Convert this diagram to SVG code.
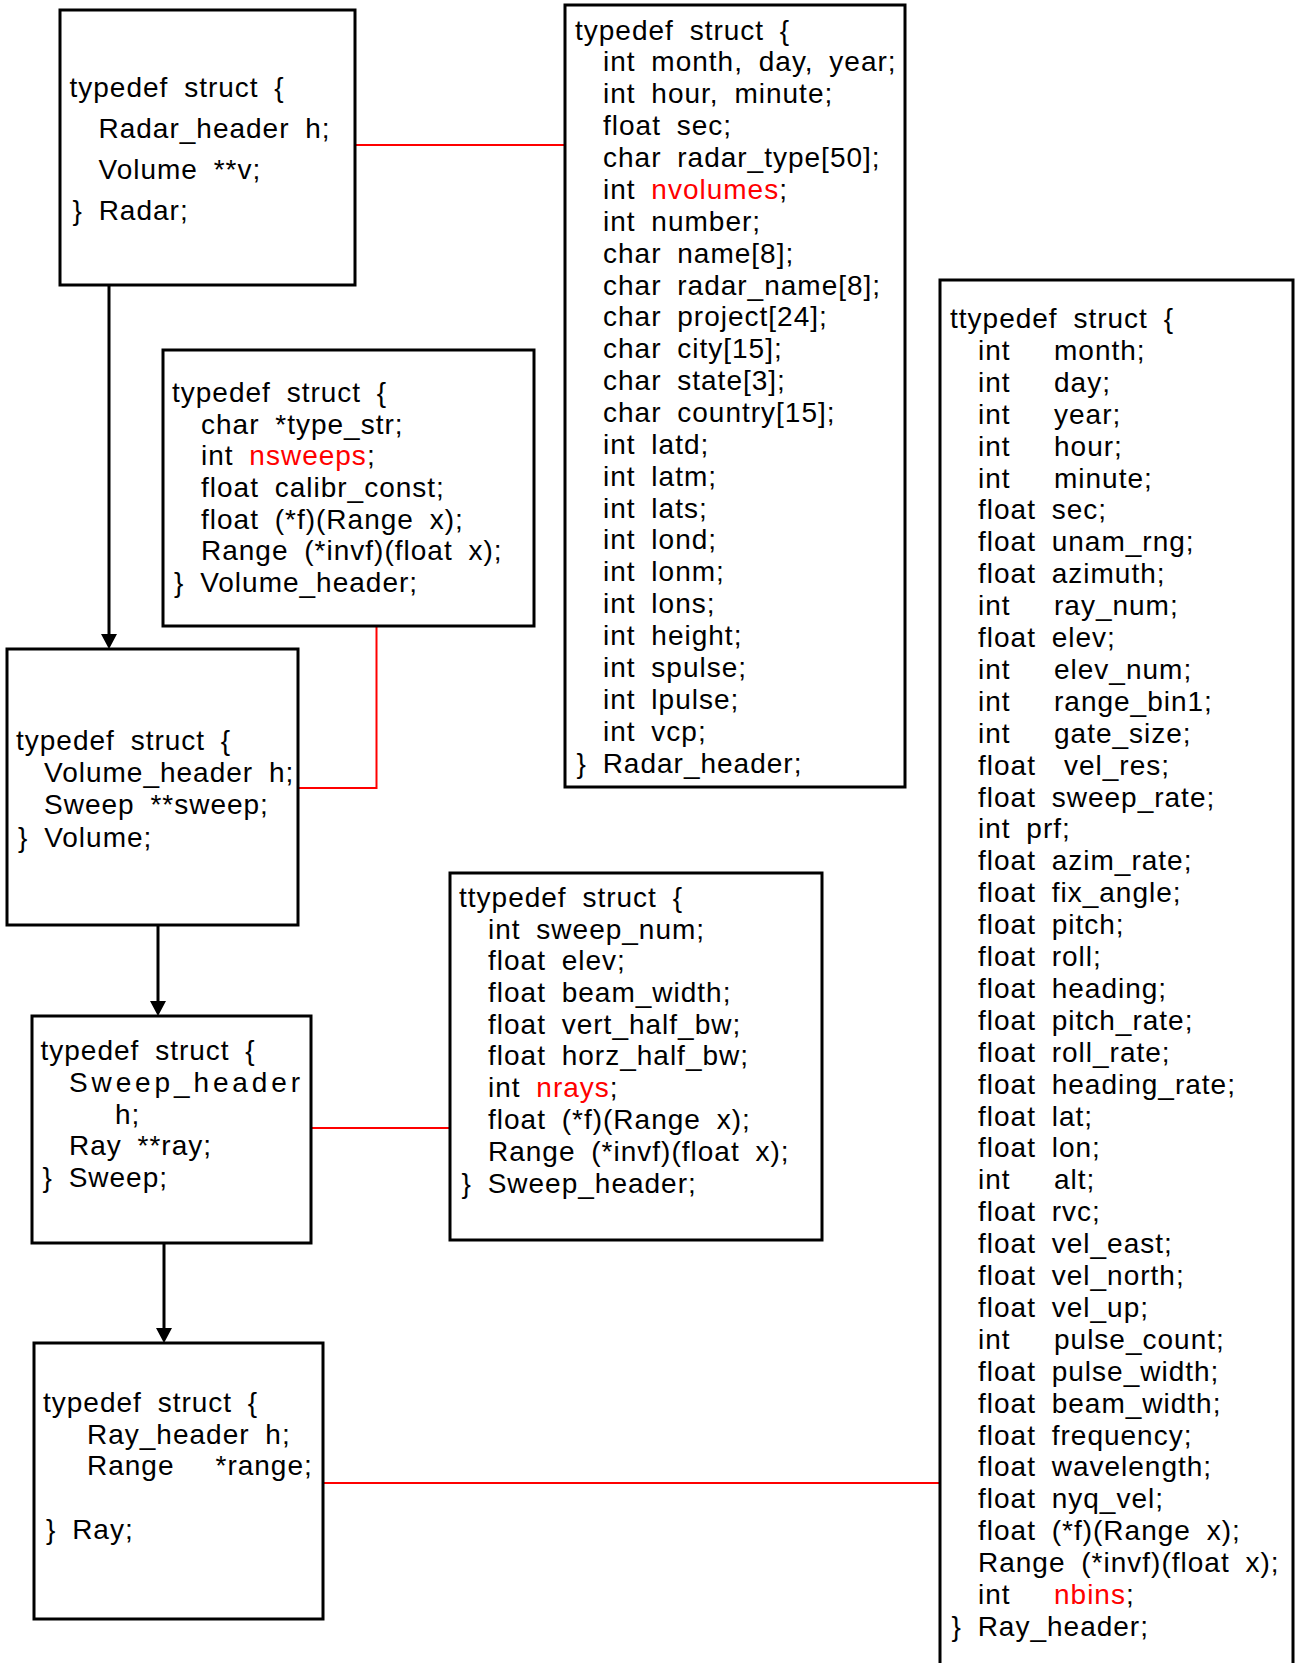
<svg xmlns="http://www.w3.org/2000/svg" width="1296" height="1663" viewBox="0 0 1296 1663">
<style>
.box{fill:#fff;stroke:#000;stroke-width:3}
.t{font-family:"Liberation Sans",Arial,sans-serif;font-size:28px;letter-spacing:1px;word-spacing:7px;fill:#000}
.r{fill:#ff0000}
.red{stroke:#ff0000;stroke-width:2;fill:none}
.arr{stroke:#000;stroke-width:3;fill:none;marker-end:url(#ah)}
</style>
<defs>
<marker id="ah" markerUnits="userSpaceOnUse" markerWidth="16" markerHeight="16" refX="0" refY="8" orient="auto" viewBox="0 0 16 16">
<path d="M0,0 L15,8 L0,16 z" fill="#000"/>
</marker>
</defs>
<rect width="1296" height="1663" fill="#fff"/>

<g id="connectors">
<path class="red" d="M355,145 H565"/>
<path class="red" d="M376.5,626 V788 H298"/>
<path class="red" d="M311,1128 H450"/>
<path class="red" d="M323,1483 H940"/>
<path class="arr" d="M109,286 V634"/>
<path class="arr" d="M158,925 V1001"/>
<path class="arr" d="M164,1243 V1328"/>
</g>

<g id="radar">
<rect class="box" x="60" y="10" width="295" height="275"/>
<text class="t" x="69.5" y="97">typedef struct {</text>
<text class="t" x="98.5" y="138">Radar_header h;</text>
<text class="t" x="98.5" y="179">Volume **v;</text>
<text class="t" x="72.5" y="220">} Radar;</text>
</g>

<g id="radar_header">
<rect class="box" x="565" y="5" width="340" height="782"/>
<text class="t" x="575" y="39.5">typedef struct {</text>
<text class="t" x="603" y="71.4">int month, day, year;</text>
<text class="t" x="603" y="103.2">int hour, minute;</text>
<text class="t" x="603" y="135.1">float sec;</text>
<text class="t" x="603" y="167">char radar_type[50];</text>
<text class="t" x="603" y="198.9">int <tspan class="r">nvolumes</tspan>;</text>
<text class="t" x="603" y="230.7">int number;</text>
<text class="t" x="603" y="262.6">char name[8];</text>
<text class="t" x="603" y="294.5">char radar_name[8];</text>
<text class="t" x="603" y="326.3">char project[24];</text>
<text class="t" x="603" y="358.2">char city[15];</text>
<text class="t" x="603" y="390.1">char state[3];</text>
<text class="t" x="603" y="421.9">char country[15];</text>
<text class="t" x="603" y="453.8">int latd;</text>
<text class="t" x="603" y="485.7">int latm;</text>
<text class="t" x="603" y="517.6">int lats;</text>
<text class="t" x="603" y="549.4">int lond;</text>
<text class="t" x="603" y="581.3">int lonm;</text>
<text class="t" x="603" y="613.2">int lons;</text>
<text class="t" x="603" y="645">int height;</text>
<text class="t" x="603" y="676.9">int spulse;</text>
<text class="t" x="603" y="708.8">int lpulse;</text>
<text class="t" x="603" y="740.6">int vcp;</text>
<text class="t" x="576.5" y="772.5">} Radar_header;</text>
</g>

<g id="volume_header">
<rect class="box" x="163" y="350" width="371" height="276"/>
<text class="t" x="172" y="402">typedef struct {</text>
<text class="t" x="201" y="433.5">char *type_str;</text>
<text class="t" x="201" y="465">int <tspan class="r">nsweeps</tspan>;</text>
<text class="t" x="201" y="497">float calibr_const;</text>
<text class="t" x="201" y="528.5">float (*f)(Range x);</text>
<text class="t" x="201" y="560">Range (*invf)(float x);</text>
<text class="t" x="174" y="592">} Volume_header;</text>
</g>

<g id="volume">
<rect class="box" x="7" y="649" width="291" height="276"/>
<text class="t" x="16" y="750">typedef struct {</text>
<text class="t" x="44" y="782">Volume_header h;</text>
<text class="t" x="44" y="814">Sweep **sweep;</text>
<text class="t" x="18" y="846.5">} Volume;</text>
</g>

<g id="sweep">
<rect class="box" x="32" y="1016" width="279" height="227"/>
<text class="t" x="40.5" y="1060">typedef struct {</text>
<text class="t" x="69" y="1092" textLength="232" lengthAdjust="spacing">Sweep_header</text>
<text class="t" x="115" y="1123.5">h;</text>
<text class="t" x="69" y="1155">Ray **ray;</text>
<text class="t" x="42.5" y="1187">} Sweep;</text>
</g>

<g id="sweep_header">
<rect class="box" x="450" y="873" width="372" height="367"/>
<text class="t" x="459" y="907">ttypedef struct {</text>
<text class="t" x="488" y="938.5">int sweep_num;</text>
<text class="t" x="488" y="970">float elev;</text>
<text class="t" x="488" y="1002">float beam_width;</text>
<text class="t" x="488" y="1033.5">float vert_half_bw;</text>
<text class="t" x="488" y="1065">float horz_half_bw;</text>
<text class="t" x="488" y="1097">int <tspan class="r">nrays</tspan>;</text>
<text class="t" x="488" y="1129">float (*f)(Range x);</text>
<text class="t" x="488" y="1161">Range (*invf)(float x);</text>
<text class="t" x="461.5" y="1193">} Sweep_header;</text>
</g>

<g id="ray">
<rect class="box" x="34" y="1343" width="289" height="276"/>
<text class="t" x="43" y="1411.5">typedef struct {</text>
<text class="t" x="87" y="1443.5">Ray_header h;</text>
<text class="t" y="1475"><tspan x="87">Range</tspan><tspan x="215.5">*range;</tspan></text>
<text class="t" x="46" y="1538.5">} Ray;</text>
</g>

<g id="ray_header">
<rect class="box" x="940" y="280" width="353" height="1400"/>
<text class="t" x="950" y="328">ttypedef struct {</text>
<text class="t" y="359.9"><tspan x="978">int</tspan><tspan x="1054">month;</tspan></text>
<text class="t" y="391.8"><tspan x="978">int</tspan><tspan x="1054">day;</tspan></text>
<text class="t" y="423.7"><tspan x="978">int</tspan><tspan x="1054">year;</tspan></text>
<text class="t" y="455.6"><tspan x="978">int</tspan><tspan x="1054">hour;</tspan></text>
<text class="t" y="487.5"><tspan x="978">int</tspan><tspan x="1054">minute;</tspan></text>
<text class="t" x="978" y="519.4">float sec;</text>
<text class="t" x="978" y="551.3">float unam_rng;</text>
<text class="t" x="978" y="583.2">float azimuth;</text>
<text class="t" y="615.1"><tspan x="978">int</tspan><tspan x="1054">ray_num;</tspan></text>
<text class="t" x="978" y="647">float elev;</text>
<text class="t" y="678.9"><tspan x="978">int</tspan><tspan x="1054">elev_num;</tspan></text>
<text class="t" y="710.8"><tspan x="978">int</tspan><tspan x="1054">range_bin1;</tspan></text>
<text class="t" y="742.7"><tspan x="978">int</tspan><tspan x="1054">gate_size;</tspan></text>
<text class="t" y="774.6"><tspan x="978">float</tspan><tspan x="1064">vel_res;</tspan></text>
<text class="t" x="978" y="806.5">float sweep_rate;</text>
<text class="t" x="978" y="838.4">int prf;</text>
<text class="t" x="978" y="870.3">float azim_rate;</text>
<text class="t" x="978" y="902.2">float fix_angle;</text>
<text class="t" x="978" y="934.1">float pitch;</text>
<text class="t" x="978" y="966">float roll;</text>
<text class="t" x="978" y="997.9">float heading;</text>
<text class="t" x="978" y="1029.8">float pitch_rate;</text>
<text class="t" x="978" y="1061.7">float roll_rate;</text>
<text class="t" x="978" y="1093.6">float heading_rate;</text>
<text class="t" x="978" y="1125.5">float lat;</text>
<text class="t" x="978" y="1157.4">float lon;</text>
<text class="t" y="1189.3"><tspan x="978">int</tspan><tspan x="1054">alt;</tspan></text>
<text class="t" x="978" y="1221.2">float rvc;</text>
<text class="t" x="978" y="1253.1">float vel_east;</text>
<text class="t" x="978" y="1285">float vel_north;</text>
<text class="t" x="978" y="1316.9">float vel_up;</text>
<text class="t" y="1348.8"><tspan x="978">int</tspan><tspan x="1054">pulse_count;</tspan></text>
<text class="t" x="978" y="1380.7">float pulse_width;</text>
<text class="t" x="978" y="1412.6">float beam_width;</text>
<text class="t" x="978" y="1444.5">float frequency;</text>
<text class="t" x="978" y="1476.4">float wavelength;</text>
<text class="t" x="978" y="1508.3">float nyq_vel;</text>
<text class="t" x="978" y="1540.2">float (*f)(Range x);</text>
<text class="t" x="978" y="1572.1">Range (*invf)(float x);</text>
<text class="t" y="1604"><tspan x="978">int</tspan><tspan x="1054" class="r">nbins</tspan><tspan>;</tspan></text>
<text class="t" x="951.5" y="1635.9">} Ray_header;</text>
</g>
</svg>
